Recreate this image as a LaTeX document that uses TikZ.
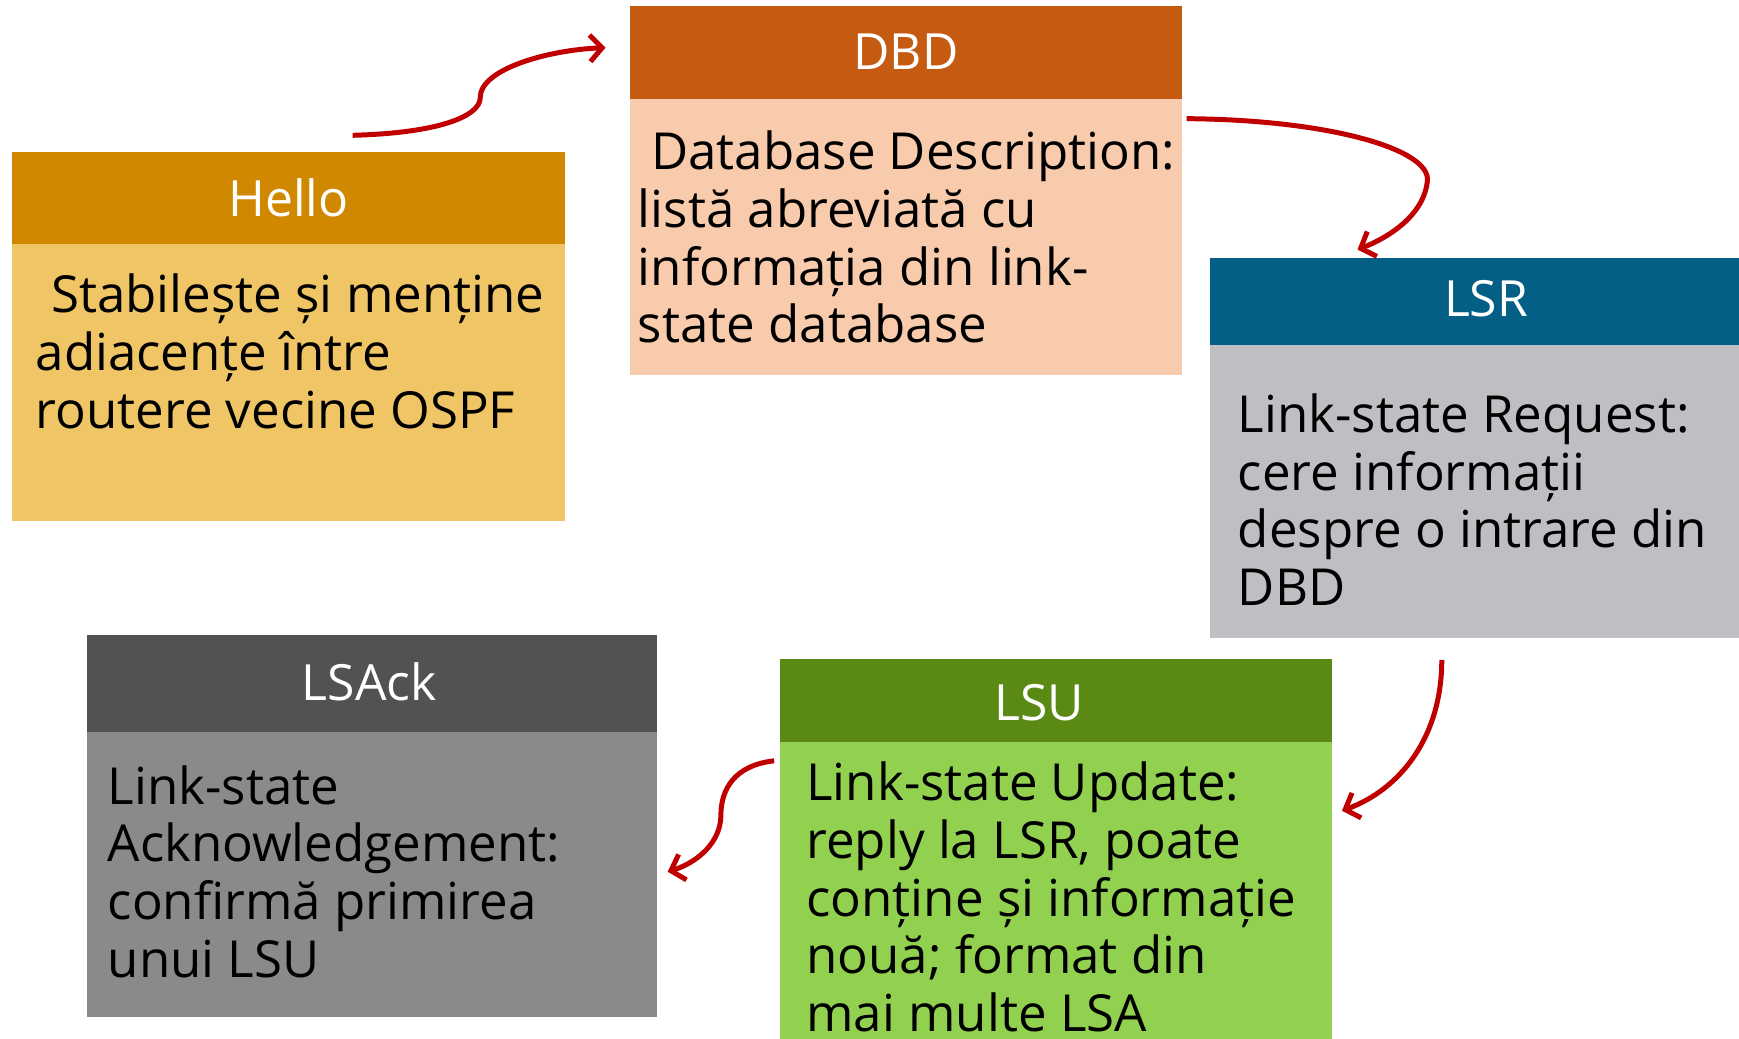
\documentclass[tikz,border=0pt]{standalone}
\usepackage{fontspec}
\setmainfont{Open Sans}
\usetikzlibrary{arrows.meta}
\definecolor{helloH}{HTML}{D08800}
\definecolor{helloB}{HTML}{F0C566}
\definecolor{dbdH}{HTML}{C55A11}
\definecolor{dbdB}{HTML}{F8CBAD}
\definecolor{lsrH}{HTML}{035F86}
\definecolor{lsrB}{HTML}{BFBEC3}
\definecolor{ackH}{HTML}{525252}
\definecolor{ackB}{HTML}{8A8A8A}
\definecolor{lsuH}{HTML}{5B8A14}
\definecolor{lsuB}{HTML}{92D050}
\definecolor{arr}{HTML}{C00000}
\tikzset{
  panel/.style={draw=none, inner sep=0pt, outer sep=0pt, anchor=north west},
  title/.style={text=white, inner sep=0pt, anchor=base, font=\fontsize{45}{52}\selectfont},
  body/.style={text=black, inner sep=0pt, anchor=base west, align=left, font=\fontsize{46}{52}\selectfont},
  conn/.style={draw=arr, line width=4.5pt, -{Straight Barb[length=11pt,width=24pt]}}
}
\begin{document}
\begin{tikzpicture}[x=1pt,y=-1pt]
\useasboundingbox (0,0) rectangle (1568,936);
% Hello
\node[panel, fill=helloH, minimum width=498pt, minimum height=83pt] (hh) at (11,137) {};
\node[panel, fill=helloB, minimum width=498pt, minimum height=250pt] (hb) at (11,220) {};
\node[title] (ht) at (260,195) {Hello};
\node[body] (hx) at (32,386) {\hspace*{14pt}Stabilește și menține\\adiacențe între\\routere vecine OSPF};
% DBD
\node[panel, fill=dbdH, minimum width=498pt, minimum height=84pt] (dh) at (568,5) {};
\node[panel, fill=dbdB, minimum width=498pt, minimum height=249pt] (db) at (568,89) {};
\node[title] (dt) at (817,63) {DBD};
\node[body] (dx) at (575,309) {\hspace*{12pt}Database Description:\\listă abreviată cu\\informația din link-\\state database};
% LSR
\node[panel, fill=lsrH, minimum width=480pt, minimum height=78pt] (rh) at (1091,233) {};
\node[panel, fill=lsrB, minimum width=480pt, minimum height=264pt] (rb) at (1091,311) {};
\node[title] (rt) at (1340,285) {LSR};
\node[body] (rx) at (1116,546) {Link-state Request:\\cere informații\\despre o intrare din\\DBD};
% LSAck
\node[panel, fill=ackH, minimum width=514pt, minimum height=87pt] (ah) at (78,573) {};
\node[panel, fill=ackB, minimum width=514pt, minimum height=257pt] (ab) at (78,660) {};
\node[title] (at) at (333,632) {LSAck};
\node[body] (ax) at (97,881) {Link-state\\Acknowledgement:\\confirmă primirea\\unui LSU};
% LSU
\node[panel, fill=lsuH, minimum width=498pt, minimum height=75pt] (uh) at (703,594) {};
\node[panel, fill=lsuB, minimum width=498pt, minimum height=270pt] (ub) at (703,669) {};
\node[title] (ut) at (937,650) {LSU};
\node[body] (ux) at (727,930) {Link-state Update:\\reply la LSR, poate\\conține și informație\\nouă; format din\\mai multe LSA};
% connector ends
\coordinate (a1s) at (318,122);
\coordinate (a1e) at (546,43);
\coordinate (a2s) at (1070,107);
\coordinate (a2e) at (1224,225);
\coordinate (a3s) at (1300,595);
\coordinate (a3e) at (1210,731);
\coordinate (a4s) at (698,686);
\coordinate (a4e) at (602,786);
\draw[conn] (a1s) .. controls (395,120) and (433,105) .. (433,88) .. controls (433,62) and (495,45) .. (a1e);
\draw[conn] (a2s) .. controls (1200,108) and (1290,135) .. (1287,163) .. controls (1284,195) and (1250,215) .. (a2e);
\draw[conn] (a3s) .. controls (1300,665) and (1262,712) .. (a3e);
\draw[conn] (a4s) .. controls (662,690) and (650,712) .. (650,735) .. controls (650,760) and (628,778) .. (a4e);
\end{tikzpicture}
\end{document}
